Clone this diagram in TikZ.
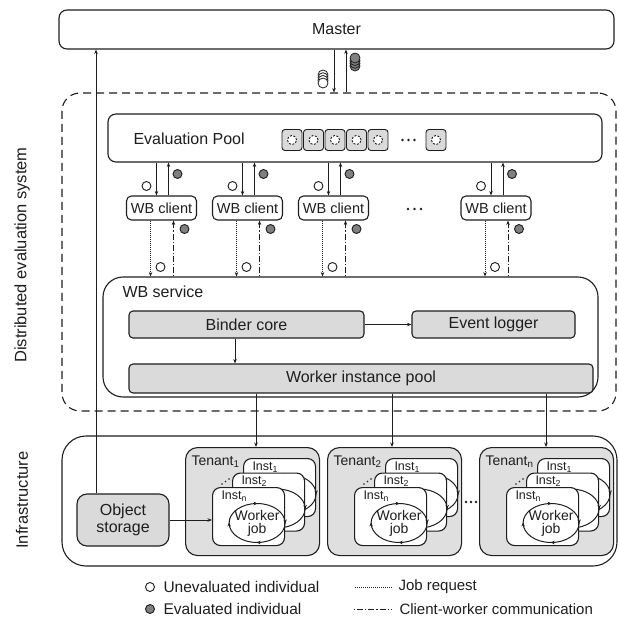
\documentclass[tikz,border=0pt]{standalone}
\usepackage{fontspec}
\setmainfont{Liberation Sans}
\usetikzlibrary{arrows.meta,calc}
\definecolor{ink}{HTML}{1E1E1E}
\definecolor{boxgray}{HTML}{DADADA}
\definecolor{tengray}{HTML}{DFDFDF}
\definecolor{evgray}{HTML}{808080}
\newcommand\fs[1]{\fontsize{#1}{#1}\selectfont}
% #1 name, #2 left, #3 top, #4 subscript
\newcommand\myinst[4]{%
  \node[inst, anchor=north west] (#1) at (#2,#3) {};
  \node[anchor=west, font=\fs{12.5}] (#1-l) at ($(#1.north west)+(9,9)$) {Inst\textsubscript{#4}};
  \coordinate (#1-c) at ($(#1.north east)+(-28,36)$);
  \draw[line width=1pt] (#1-c) ellipse [x radius=28pt, y radius=19.5pt];
  \draw[tip] ($(#1-c)+(-2,-19.5)$) -- ($(#1-c)+(0.5,-19.5)$);
  \draw[tip] ($(#1-c)+(28,-2)$) -- ($(#1-c)+(28,0.5)$);
  \draw[tip] ($(#1-c)+(2,19.5)$) -- ($(#1-c)+(-0.5,19.5)$);
  \draw[tip] ($(#1-c)+(-28,2)$) -- ($(#1-c)+(-28,-0.5)$);
}
\begin{document}
\begin{tikzpicture}[x=1pt,y=-1pt,
  line width=1pt, draw=ink,
  every node/.style={font=\fs{16}, inner sep=0pt, text=ink},
  wh/.style 2 args={minimum width=#1, minimum height=#2},
  sq/.style={draw=ink, rounded corners=8pt, fill=white, line width=1.1pt},
  gbox/.style={draw=ink, rounded corners=4pt, fill=boxgray, line width=1.1pt},
  client/.style={draw=ink, rounded corners=5pt, fill=white, line width=1.1pt, minimum width=70pt, minimum height=24pt, font=\fs{14.5}},
  tile/.style={draw=ink, fill=boxgray, rounded corners=3pt, minimum width=20pt, minimum height=21pt, line width=0.9pt},
  tenant/.style={draw=ink, fill=tengray, rounded corners=12pt, line width=1.1pt, minimum width=134pt, minimum height=108pt},
  inst/.style={draw=ink, fill=white, rounded corners=8pt, line width=1.1pt, minimum width=72pt, minimum height=58pt},
  wc/.style={circle, draw=ink, fill=white, minimum size=9pt, line width=0.9pt},
  gc/.style={circle, draw=ink, fill=evgray, minimum size=9pt, line width=0.9pt},
  arr/.style={-{Stealth[length=4.5pt,width=3.5pt]}, line width=0.9pt, draw=ink},
  tip/.style={-{Stealth[length=4pt,width=3.5pt]}, line width=0.8pt, draw=ink},
  jobreq/.style={dash pattern=on 1pt off 1pt},
  cwc/.style={dash pattern=on 1.2pt off 2pt on 6pt off 2pt},
  ddot/.style={fill=ink, draw=none}
]
\useasboundingbox (0,0) rectangle (619,618);

% left labels
\node[rotate=90, font=\fs{16.5}] (lbl1) at (22,255) {Distributed evaluation system};
\node[rotate=90, font=\fs{16.5}] (lbl2) at (22,500) {Infrastructure};

% master
\node[sq, wh={555pt}{39pt}] (master) at (336.5,29.5) {Master};

% dashed system box
\node[draw=ink, line width=1.1pt, dash pattern=on 8pt off 5pt, rounded corners=18pt, wh={554pt}{318pt}] (dist) at (339,252) {};

% master arrows
\coordinate (md) at (334,0);
\coordinate (mu) at (346,0);
\draw[arr] (master.south -| md) -- (dist.north -| md);
\draw[arr] (dist.north -| mu) -- (master.south -| mu);
\foreach \yy in {75,77.7,80.4,83} \draw[fill=white, line width=0.8pt] (323,\yy) circle[radius=5pt];
\foreach \yy in {66,63.3,60.6,58} \draw[fill=evgray, line width=0.8pt] (355,\yy) circle[radius=5pt];

% evaluation pool
\node[sq, wh={494pt}{48pt}] (pool) at (355,138) {};
\node[anchor=west] (pooltxt) at (133,139) {Evaluation Pool};
\foreach \x [count=\k] in {292,313.5,335,356.5,378,436} {
  \node[tile] (tile\k) at (\x,140) {};
  \draw[fill=white, line width=0.9pt, dash pattern=on 2pt off 1.6pt] (tile\k) circle[radius=4.6pt];
}
\foreach \x in {402.5,408.5,414.5} \fill[ddot] (\x,140) circle[radius=1.3pt];

% WB service
\node[draw=ink, line width=1.1pt, rounded corners=20pt, fill=white, wh={495pt}{120pt}] (svc) at (350.5,337) {};
\node[anchor=west] (svctxt) at (122,292) {WB service};
\node[gbox, wh={235pt}{27pt}] (binder) at (246.5,324.5) {Binder core};
\node[gbox, wh={163pt}{27pt}] (logger) at (493.5,324.5) {Event logger};
\node[gbox, wh={464pt}{29pt}] (wpool) at (361,378.5) {Worker instance pool};
\draw[arr] (binder) -- (logger);
\coordinate (bx) at (235,0);
\draw[arr] (binder.south -| bx) -- (wpool.north -| bx);

% clients
\foreach \i/\c in {1/161.5,2/247.5,3/333.5,4/496} {
  \node[client] (cl\i) at (\c,208) {WB client};
  \coordinate (pd\i) at (\c-5,0);
  \coordinate (pu\i) at (\c+7,0);
  \coordinate (sd\i) at (\c-11,0);
  \coordinate (su\i) at (\c+12,0);
  \draw[arr] (pool.south -| pd\i) -- (cl\i.north -| pd\i);
  \draw[arr] (cl\i.north -| pu\i) -- (pool.south -| pu\i);
  \draw[arr, jobreq] (cl\i.south -| sd\i) -- (svc.north -| sd\i);
  \draw[arr, cwc] (svc.north -| su\i) -- (cl\i.south -| su\i);
  \node[wc] (wa\i) at (\c-15,186) {};
  \node[gc] (ga\i) at (\c+16,174) {};
  \node[gc] (gb\i) at (\c+23,229) {};
  \node[wc] (wb\i) at (\c-1,267) {};
}
\foreach \x in {408,414.5,421} \fill[ddot] (\x,209) circle[radius=1.3pt];

% infrastructure
\node[draw=ink, line width=1.1pt, rounded corners=24pt, wh={555pt}{130pt}] (infra) at (339.5,501) {};

% tenants
\foreach \j/\L/\ax/\sub in {1/185/256/1,2/327/392/2,3/479/546/n} {
  \node[tenant, anchor=north west] (ten\j) at (\L,447) {};
  \node[anchor=west, font=\fs{14}] (tl\j) at (\L+6,462) {Tenant\textsubscript{\sub}};
  \coordinate (tx\j) at (\ax,0);
  \draw[arr] (wpool.south -| tx\j) -- (ten\j.north -| tx\j);
  \myinst{ia\j}{\L+58}{458}{1}
  \myinst{ib\j}{\L+47}{472.5}{2}
  \myinst{ic\j}{\L+27}{487}{n}
  \node[align=center, font=\fs{14}] (wj\j) at (ic\j-c) {Worker\\[-1pt]job};
  \foreach \t in {0,1,2} \fill[ddot] (\L+37+\t*3.5,484-\t*2.5) circle[radius=0.8pt];
}
\foreach \x in {466,471,476} \fill[ddot] (\x,502) circle[radius=1.3pt];

% object storage
\node[gbox, rounded corners=10pt, wh={92pt}{52pt}, align=center] (obj) at (123,520) {Object\\[1pt]storage};
\draw[arr] (obj.east) -- (obj.east -| ic1.west);
\coordinate (lx) at (96,0);
\draw[arr] (obj.north -| lx) -- (master.south -| lx);

% legend
\node[wc] (lw) at (150,587) {};
\node[anchor=west, font=\fs{15.5}] (lwt) at (163,587) {Unevaluated individual};
\node[gc] (lg) at (150,609) {};
\node[anchor=west, font=\fs{15.5}] (lgt) at (163,609) {Evaluated individual};
\coordinate (ja) at (355,587);
\coordinate (jb) at (392,587);
\draw[jobreq, line width=0.9pt] (ja) -- (jb);
\node[anchor=west, font=\fs{15}] (jt) at (398,587) {Job request};
\coordinate (ca) at (354,609);
\coordinate (cb) at (392,609);
\draw[cwc, line width=0.9pt] (ca) -- (cb);
\node[anchor=west, font=\fs{15}] (ct) at (399,609) {Client-worker communication};
\end{tikzpicture}
\end{document}
